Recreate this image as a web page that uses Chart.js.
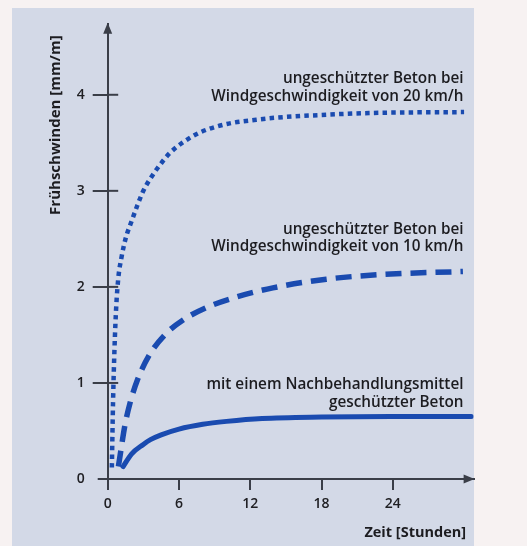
<!DOCTYPE html>
<html>
<head>
<meta charset="utf-8">
<script src="https://cdn.jsdelivr.net/npm/chart.js@4"></script>
<style>
  html, body { margin: 0; padding: 0; background: #f7f2f2; }
  #wrap { position: relative; width: 527px; height: 546px; }
  #paper { position: absolute; left: 12px; top: 8px; width: 462px; height: 538px; background: #d3d9e7; }
  #grafico { position: absolute; left: 0; top: 0; }
</style>
</head>
<body>
<div id="wrap">
  <div id="paper"></div>
  <canvas id="grafico" width="527" height="546"></canvas>
</div>
<script>
// Werte (Stunden / mm/m)
const hours20 = [0.35, 0.45, 0.57, 0.72, 0.9, 1.15, 1.5, 2.0, 2.5, 3.0, 3.6, 4.4, 5.2, 6.4, 7.8, 9.2, 10.6, 12.5, 14, 18, 22, 30]
const wind20  = [0.12, 0.8, 1.35, 1.8, 2.1, 2.3, 2.5, 2.68, 2.85, 3.0, 3.13, 3.27, 3.39, 3.51, 3.61, 3.67, 3.71, 3.74, 3.76, 3.79, 3.81, 3.82]

const hours10 = [0.9, 1.05, 1.45, 1.9, 2.5, 3.5, 4.8, 6.4, 8.4, 10.7, 13.9, 18.4, 23.2, 29.9]
const wind10  = [0.13, 0.25, 0.56, 0.8, 1.03, 1.29, 1.5, 1.66, 1.79, 1.89, 1.99, 2.08, 2.13, 2.16]

const hoursNb = [1.3, 2.0, 3.0, 3.6, 4.5, 6.0, 8, 10, 13, 18, 24, 30.6]
const nachbeh = [0.13, 0.26, 0.36, 0.41, 0.46, 0.52, 0.57, 0.6, 0.63, 0.645, 0.65, 0.65]

const xTicks = [0, 6, 12, 18, 24]
const yTicks = [0, 1, 2, 3, 4]

const labels20 = ['ungeschützter Beton bei', 'Windgeschwindigkeit von 20 km/h']
const labels10 = ['ungeschützter Beton bei', 'Windgeschwindigkeit von 10 km/h']
const labelsNb = ['mit einem Nachbehandlungsmittel', 'geschützter Beton']

const blau = '#1a4bb0'
const achse = '#3a3e48'
const schrift = "'Open Sans', sans-serif"

const pts = (xs, ys) => xs.map((x, i) => ({ x, y: ys[i] }))

// Beschriftungen an den Kurven (Anker in Datenwerten)
const notes = [
  { lines: labels20, x: 29.95, y: 4.17 },
  { lines: labels10, x: 29.95, y: 2.60 },
  { lines: labelsNb, x: 29.95, y: 0.98 },
]

const deko = {
  id: 'deko',
  afterDraw(chart) {
    const { ctx, chartArea: a, scales: { x, y } } = chart
    ctx.save()
    ctx.strokeStyle = achse
    ctx.fillStyle = achse
    ctx.lineWidth = 2
    // x-Achse etwas nach links verlängern
    ctx.beginPath()
    ctx.moveTo(a.left - 10, a.bottom)
    ctx.lineTo(a.left, a.bottom)
    ctx.stroke()
    // Teilstriche der y-Achse nach innen
    yTicks.filter(v => v > 0).forEach(v => {
      const py = y.getPixelForValue(v)
      ctx.beginPath()
      ctx.moveTo(a.left, py)
      ctx.lineTo(a.left + 10.5, py)
      ctx.stroke()
    })
    // Pfeilspitzen
    ctx.beginPath()
    ctx.moveTo(a.right + 1, a.bottom)
    ctx.lineTo(a.right - 10, a.bottom - 4.5)
    ctx.lineTo(a.right - 10, a.bottom + 4.5)
    ctx.closePath()
    ctx.fill()
    ctx.beginPath()
    ctx.moveTo(a.left, a.top - 1)
    ctx.lineTo(a.left - 4.5, a.top + 10)
    ctx.lineTo(a.left + 4.5, a.top + 10)
    ctx.closePath()
    ctx.fill()
    // Texte
    ctx.fillStyle = '#1c1c20'
    ctx.font = '600 15.3px ' + schrift
    ctx.textAlign = 'right'
    ctx.textBaseline = 'middle'
    notes.forEach(n => {
      const px = x.getPixelForValue(n.x)
      const py = y.getPixelForValue(n.y)
      n.lines.forEach((t, i) => ctx.fillText(t, px, py + i * 17.7))
    })
    ctx.restore()
  }
}

const data = {
  datasets: [
    {
      data: pts(hours20, wind20),
      borderColor: blau,
      borderWidth: 4.5,
      borderDash: [4.5, 4.2],
      borderCapStyle: 'butt',
      pointRadius: 0,
      cubicInterpolationMode: 'monotone'
    },
    {
      data: pts(hours10, wind10),
      borderColor: blau,
      borderWidth: 5.5,
      borderDash: [16, 9],
      borderCapStyle: 'butt',
      pointRadius: 0,
      cubicInterpolationMode: 'monotone'
    },
    {
      data: pts(hoursNb, nachbeh),
      borderColor: blau,
      borderWidth: 5,
      borderCapStyle: 'round',
      pointRadius: 0,
      cubicInterpolationMode: 'monotone'
    }
  ]
}

const config = {
  type: 'line',
  data,
  options: {
    responsive: false,
    animation: false,
    layout: { padding: { left: 37, top: 23.7, right: 53.4, bottom: 4 } },
    plugins: { legend: { display: false }, tooltip: { enabled: false } },
    scales: {
      x: {
        type: 'linear',
        min: 0,
        max: 30.8,
        afterBuildTicks: s => { s.ticks = xTicks.map(v => ({ value: v })) },
        afterFit: s => { s.height = 63 },
        border: { color: achse, width: 2 },
        grid: { drawOnChartArea: false, tickLength: 11, color: achse, lineWidth: 2 },
        ticks: { color: '#202024', padding: 6, font: { family: schrift, size: 14, weight: '600' } },
        title: {
          display: true,
          text: 'Zeit [Stunden]  ',
          align: 'end',
          color: '#1c1c20',
          padding: { top: 0, bottom: 0 },
          font: { family: schrift, size: 14.5, weight: 'bold', lineHeight: 1.25 }
        }
      },
      y: {
        min: 0,
        max: 4.74,
        afterBuildTicks: s => { s.ticks = yTicks.map(v => ({ value: v })) },
        afterFit: s => { s.width = 70.7 },
        border: { color: achse, width: 2 },
        grid: {
          drawOnChartArea: false,
          tickLength: 15,
          lineWidth: 2,
          color: c => (c.tick && c.tick.value === 0 ? 'rgba(0,0,0,0)' : achse)
        },
        ticks: { color: '#202024', padding: 8, font: { family: schrift, size: 14, weight: '600' } },
        title: {
          display: true,
          text: 'Frühschwinden [mm/m]   ',
          align: 'end',
          color: '#1c1c20',
          padding: { top: 9, bottom: 0 },
          font: { family: schrift, size: 15, weight: 'bold', lineHeight: 1.25 }
        }
      }
    }
  },
  plugins: [deko]
}

const graph = new Chart(document.getElementById('grafico'), config)
</script>
</body>
</html>
